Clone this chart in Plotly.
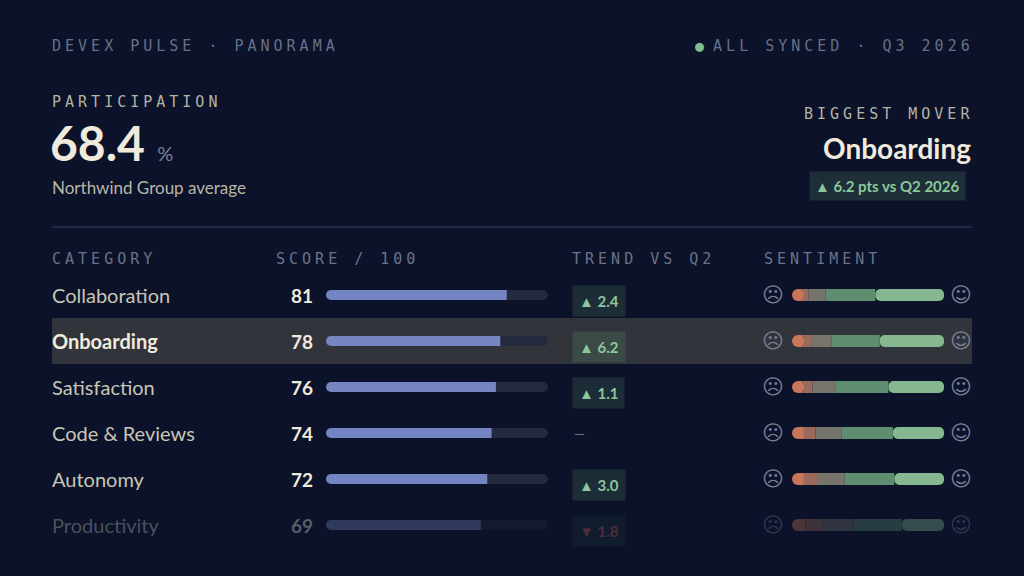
import plotly.graph_objects as go

# data
categories = ['Collaboration', 'Onboarding', 'Satisfaction', 'Code & Reviews', 'Autonomy', 'Productivity']
scores = [81, 78, 76, 74, 72, 69]
trend = [2.4, 6.2, 1.1, None, 3.0, -1.8]
sent_very_neg = [2, 3, 3, 4, 4, 5]
sent_neg = [5, 6, 7, 8, 9, 12]
sent_neutral = [12, 14, 16, 18, 19, 21]
sent_pos = [34, 33, 36, 35, 34, 33]
sent_very_pos = [47, 44, 38, 35, 34, 29]
participation = 68.4
highlight = 'Onboarding'

BG = '#0b1229'
W, H = 1024, 576
SANS = 'Lato, Noto Sans, sans-serif'
MONO = 'DejaVu Sans Mono, monospace'


def px(x):
    return x / W


def py(y):
    return 1 - y / H


def blend(hex_c, a, bg=BG):
    c = [int(hex_c[i:i + 2], 16) for i in (1, 3, 5)]
    b = [int(bg[i:i + 2], 16) for i in (1, 3, 5)]
    return '#%02x%02x%02x' % tuple(int(c[k] * a + b[k] * (1 - a)) for k in range(3))


def fade(hex_c):
    # last row fades out toward the bottom edge
    return [hex_c] * (len(categories) - 1) + [blend(hex_c, 0.35)]


def spaced(text):
    gap = '<span style="font-family:Lato;font-size:8px">\u2002</span>'
    return gap.join(list(text))


fig = go.Figure()

# highlighted row band
hi = categories.index(highlight)
fig.add_shape(type='rect', xref='paper', yref='y', x0=px(52), x1=px(972), y0=hi - 0.5, y1=hi + 0.5,
              fillcolor='#32343c', line_width=0, layer='below')

rows = list(range(len(categories)))

# score track + fill
fig.add_trace(go.Bar(x=[100] * len(rows), y=rows, orientation='h', width=0.22, xaxis='x', yaxis='y',
                     marker=dict(color=fade('#242a3d'), cornerradius=5, line_width=0), hoverinfo='skip'))
fig.add_trace(go.Scatter(x=[0] * len(rows), y=rows, mode='markers', xaxis='x', yaxis='y', cliponaxis=False,
                         marker=dict(size=10, color=fade('#7485c2'), line_width=0), hoverinfo='skip'))
fig.add_trace(go.Bar(x=scores, y=rows, orientation='h', width=0.22, xaxis='x', yaxis='y',
                     marker=dict(color=fade('#7485c2'), cornerradius=5, line_width=0)))

# sentiment stacked segments (explicit base)
segs = [(sent_very_neg, '#c8775a'), (sent_neg, '#9a6b5c'), (sent_neutral, '#77746b'),
        (sent_pos, '#5f8d70'), (sent_very_pos, '#85b890')]
fig.add_trace(go.Scatter(x=[0] * len(rows), y=rows, mode='markers', xaxis='x2', yaxis='y', cliponaxis=False,
                         marker=dict(size=12, color=fade('#c8775a'), line_width=0), hoverinfo='skip'))
base = [0] * len(rows)
for i, (vals, col) in enumerate(segs):
    fig.add_trace(go.Bar(x=vals, y=rows, base=list(base), orientation='h', width=0.26, xaxis='x2', yaxis='y',
                         marker=dict(color=fade(col), cornerradius=6 if i == len(segs) - 1 else 0,
                                     line_width=0)))
    base = [b + v for b, v in zip(base, vals)]

ann = []


def text(x, y, s, size, color, family=SANS, xanchor='left', yref='paper', **kw):
    ann.append(dict(x=x, y=y, xref='paper', yref=yref, text=s, showarrow=False, xanchor=xanchor,
                    yanchor='middle', font=dict(size=size, color=color, family=family), **kw))


# header
text(px(50), py(46), spaced('DEVEX PULSE · PANORAMA'), 15, '#687089', MONO)
text(px(972), py(46), '<span style="color:#7fbf8f">●</span> ' + spaced('ALL SYNCED · Q3 2026'), 15, '#687089', MONO,
     xanchor='right')
text(px(50), py(102), spaced('PARTICIPATION'), 15, '#b5b3a6', MONO)
text(px(48), py(143), '<b>%.1f</b>' % participation + ' <span style="font-size:20px;color:#7d8299">%</span>',
     48, '#efeadc')
text(px(50), py(188), 'Northwind Group average', 17, '#b9b6a8')
text(px(972), py(114), spaced('BIGGEST MOVER'), 15, '#b5b3a6', MONO, xanchor='right')
text(px(973), py(148), '<b>%s</b>' % highlight, 28, '#efeadc', xanchor='right')
text(px(966), py(186), '<b>▲ %.1f pts vs Q2 2026</b>' % trend[hi], 15, '#8cc79a', xanchor='right',
     bgcolor='#1e2f3a', borderpad=5)

fig.add_shape(type='line', xref='paper', yref='paper', x0=px(52), x1=px(972), y0=py(227), y1=py(227),
              line=dict(color='#2a3150', width=1.5))

# column headers
for x, s in [(50, 'CATEGORY'), (274, 'SCORE / 100'), (570, 'TREND VS Q2'), (762, 'SENTIMENT')]:
    text(px(x), py(259), spaced(s), 15, '#6b7288', MONO)

# rows
last = len(categories) - 1
for i, cat in enumerate(categories):
    a = 0.35 if i == last else 1
    is_hi = cat == highlight
    text(px(50), i, '<b>%s</b>' % cat if is_hi else cat, 20, blend('#f0ebdd' if is_hi else '#c9c5b5', a),
         yref='y')
    text(px(315), i, '<b>%d</b>' % scores[i], 19, blend('#efeadc', a), xanchor='right', yref='y')
    t = trend[i]
    if t is None:
        text(px(572), i, '—', 14, '#6b7288', yref='y')
    else:
        up = t > 0
        col = '#8cc79a' if up else '#c0615a'
        bg = '#3b4a47' if is_hi else '#1c2d37'
        text(px(572), i + 0.12, '<b>%s %.1f</b>' % ('▲' if up else '▼', abs(t)), 15, blend(col, a),
             yref='y', bgcolor=blend(bg, a), borderpad=6)
    face = blend('#7a7f95', a)
    text(px(773), i, '☹', 21, face, 'DejaVu Sans', xanchor='center', yref='y')
    text(px(961), i, '☺', 21, face, 'DejaVu Sans', xanchor='center', yref='y')

fig.update_layout(
    width=W, height=H, margin=dict(l=0, r=0, t=0, b=0),
    paper_bgcolor=BG, plot_bgcolor='rgba(0,0,0,0)',
    barmode='overlay', showlegend=False, annotations=ann,
    xaxis=dict(domain=[px(331), px(548)], range=[0, 100], visible=False, fixedrange=True),
    xaxis2=dict(domain=[px(798), px(944)], range=[0, 100], visible=False, anchor='y', fixedrange=True),
    yaxis=dict(domain=[py(548), py(272)], range=[5.5, -0.5], visible=False, fixedrange=True),
)

fig.write_html('out.html', config={'displayModeBar': False},
               post_script="document.body.style.margin='0';document.body.style.background='%s';" % BG)
